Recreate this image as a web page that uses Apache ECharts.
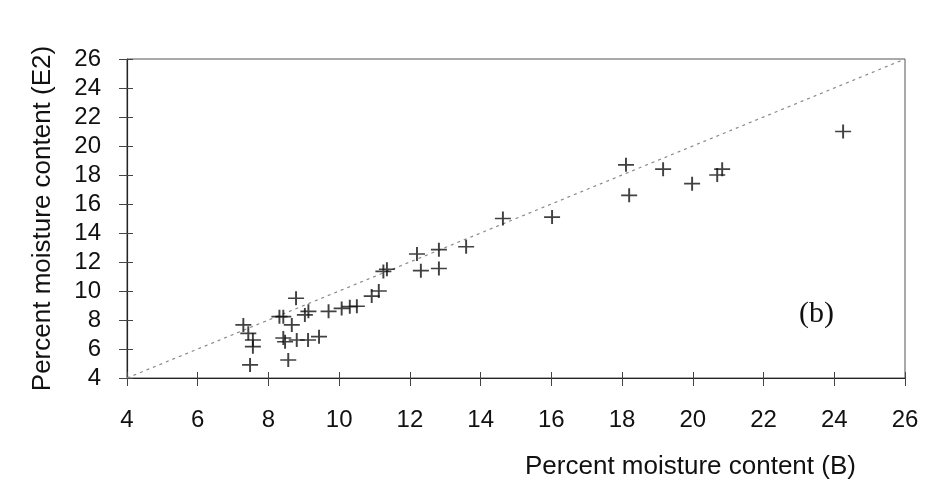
<!DOCTYPE html>
<html>
<head>
<meta charset="utf-8">
<script src="https://cdn.jsdelivr.net/npm/echarts@6/dist/echarts.min.js"></script>
<style>
  html, body { margin: 0; padding: 0; background: #fff; }
  #chart { width: 951px; height: 502px; }
</style>
</head>
<body>
<div id="chart"></div>
<script>
// Moisture content: method B (x) against method E2 (y)
const moistureB = [
  24.25, 20.83, 20.69, 19.98, 19.16, 18.11, 18.20, 16.02, 14.63, 13.59,
  12.82, 12.20, 12.31, 12.82, 11.25, 11.35, 10.92, 11.12, 10.50, 10.30,
  10.07, 9.70, 9.13, 9.03, 8.78, 8.31, 8.42, 8.66, 7.29, 7.43,
  7.56, 7.56, 7.48, 8.42, 8.47, 8.80, 9.12, 9.43, 8.56
];
const moistureE2 = [
  21.00, 18.40, 18.00, 17.40, 18.40, 18.70, 16.60, 15.10, 15.00, 13.05,
  12.85, 12.55, 11.40, 11.55, 11.35, 11.50, 9.65, 10.00, 8.95, 8.92,
  8.80, 8.60, 8.60, 8.35, 9.50, 8.23, 8.23, 7.66, 7.66, 7.08,
  6.62, 6.16, 4.90, 6.76, 6.50, 6.62, 6.62, 6.85, 5.24
];
// 1:1 reference line
const lineOfEquality = [4, 26];
const axisMin = 4, axisMax = 26, axisStep = 2;

const points = moistureB.map((x, i) => [x, moistureE2[i]]);
const diagonal = lineOfEquality.map(v => [v, v]);

const tickFont = { fontFamily: 'Liberation Sans', fontSize: 24, color: '#111' };

function valueAxis(extra) {
  return Object.assign({
    type: 'value',
    min: axisMin, max: axisMax, interval: axisStep,
    splitLine: { show: false },
    axisLine: { lineStyle: { color: '#222', width: 1.2 } },
    axisTick: { length: 8, lineStyle: { color: '#444', width: 1 } },
    axisLabel: Object.assign({ margin: 30 }, tickFont)
  }, extra);
}

const chart = echarts.init(document.getElementById('chart'), null, { renderer: 'canvas' });
chart.setOption({
  animation: false,
  backgroundColor: '#fff',
  grid: {
    left: 127, right: 46, top: 59, bottom: 124,
    show: true, borderColor: '#555', borderWidth: 1, backgroundColor: 'transparent'
  },
  xAxis: [
    valueAxis({ position: 'bottom' }),
    valueAxis({
      position: 'bottom',
      axisLine: { show: false },
      axisTick: { inside: true, length: 6, lineStyle: { color: '#444', width: 1 } },
      axisLabel: { show: false }
    })
  ],
  yAxis: [
    valueAxis({
      position: 'left',
      axisLabel: Object.assign({}, tickFont, { margin: 26 }),
      name: 'Percent moisture content (E2)',
      nameLocation: 'middle',
      nameGap: 71,
      nameTextStyle: { fontFamily: 'Liberation Sans', fontSize: 26, color: '#111' }
    }),
    valueAxis({
      position: 'left',
      axisLine: { show: false },
      axisTick: { inside: true, length: 6, lineStyle: { color: '#444', width: 1 } },
      axisLabel: { show: false }
    })
  ],
  graphic: [
    {
      type: 'text', left: 525, top: 454,
      style: { text: 'Percent moisture content (B)', font: '26px "Liberation Sans"', fill: '#111' }
    },
    {
      type: 'text', left: 799, top: 299,
      style: { text: '(b)', font: '30px "Liberation Serif"', fill: '#111' }
    }
  ],
  series: [
    {
      type: 'line',
      data: diagonal,
      symbol: 'none',
      silent: true,
      lineStyle: { color: '#8a8a8a', width: 1.2, type: [3, 4] },
      z: 1
    },
    {
      type: 'scatter',
      data: points,
      symbol: 'path://M0,7H16M8,0V14',
      symbolSize: [16, 14],
      itemStyle: { color: 'rgba(0,0,0,0)', borderColor: '#111', borderWidth: 1.8 },
      z: 3
    }
  ]
});
</script>
</body>
</html>
